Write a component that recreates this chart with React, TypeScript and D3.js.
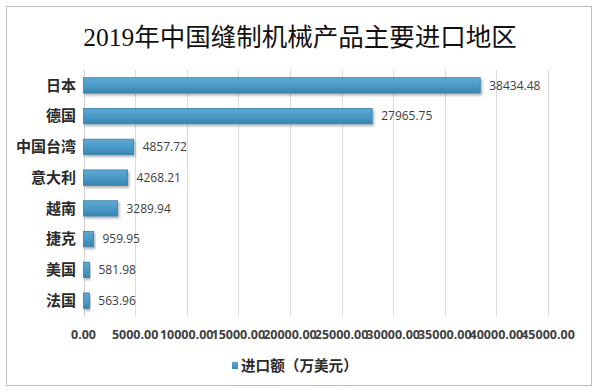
import * as d3 from 'd3';

const categories = ['日本', '德国', '中国台湾', '意大利', '越南', '捷克', '美国', '法国'];
const values = [38434.48, 27965.75, 4857.72, 4268.21, 3289.94, 959.95, 581.98, 563.96];
const ticks = [0, 5000, 10000, 15000, 20000, 25000, 30000, 35000, 40000, 45000];
const title = '2019年中国缝制机械产品主要进口地区';
const legendLabel = '进口额（万美元）';

const W = 599;
const H = 392;
const sans = '"Noto Sans CJK SC", "Noto Sans", sans-serif';

export default function App() {
  const x = d3.scaleLinear().domain([0, 45000]).range([83.5, 548]);
  const y = d3.scaleBand<string>().domain(categories).range([70, 316]).paddingInner(0.5).paddingOuter(0.25);

  return (
    <div style={{ position: 'absolute', left: 0, top: 0 }}>
      <svg width={W} height={H} style={{ display: 'block', background: '#fff' }}>
        <defs>
          <linearGradient id="barGrad" x1="0" y1="0" x2="0" y2="1">
            <stop offset="0%" stopColor="#5fa9d2" />
            <stop offset="45%" stopColor="#4c9cc9" />
            <stop offset="100%" stopColor="#3a84b0" />
          </linearGradient>
          <filter id="shadow" x="-10%" y="-30%" width="130%" height="180%">
            <feDropShadow dx="1.5" dy="2" stdDeviation="1.2" floodColor="#000" floodOpacity="0.3" />
          </filter>
        </defs>

        <rect x={6.5} y={6.5} width={585} height={379} fill="#fff" stroke="#bdbdbd" strokeWidth={1} />

        <text x={300} y={46} textAnchor="middle" fontSize={25.5}
          fontFamily='"Liberation Serif", "Noto Sans CJK SC", serif' fill="#111">
          {title}
        </text>

        {/* gridlines */}
        {ticks.map(t => (
          <line key={t} x1={Math.round(x(t)) + 0.5} x2={Math.round(x(t)) + 0.5} y1={70} y2={316}
            stroke={t === 0 ? '#cfcfcf' : '#dcdcdc'} strokeWidth={1} />
        ))}

        {/* tick labels */}
        {ticks.map(t => (
          <text key={'t' + t} x={x(t)} y={339} textAnchor="middle" fontSize={12.5} fontWeight="bold"
            fontFamily='"Open Sans", "Noto Sans", sans-serif' fill="#404040">
            {t.toFixed(2)}
          </text>
        ))}

        {/* bars */}
        {categories.map((c, i) => (
          <g key={c}>
            <rect x={x(0)} y={y(c)} width={x(values[i]) - x(0)} height={y.bandwidth()}
              fill="url(#barGrad)" stroke="#3b7fa8" strokeWidth={0.8} filter="url(#shadow)" />
            <text x={76} y={(y(c) ?? 0) + y.bandwidth() / 2} dy="0.35em" textAnchor="end"
              fontSize={15} fontWeight="bold" fontFamily={sans} fill="#2a2a2a">
              {c}
            </text>
            <text x={x(values[i]) + 9} y={(y(c) ?? 0) + y.bandwidth() / 2} dy="0.35em"
              fontSize={12} fontFamily='"Open Sans", "Noto Sans", sans-serif' fill="#404040">
              {values[i].toFixed(2)}
            </text>
          </g>
        ))}

        {/* legend */}
        <rect x={232} y={362} width={6} height={7} fill="url(#barGrad)" />
        <text x={241} y={366} dy="0.35em" fontSize={14.6} fontWeight="bold" fontFamily={sans} fill="#2a2a2a">
          {legendLabel}
        </text>
      </svg>
    </div>
  );
}
